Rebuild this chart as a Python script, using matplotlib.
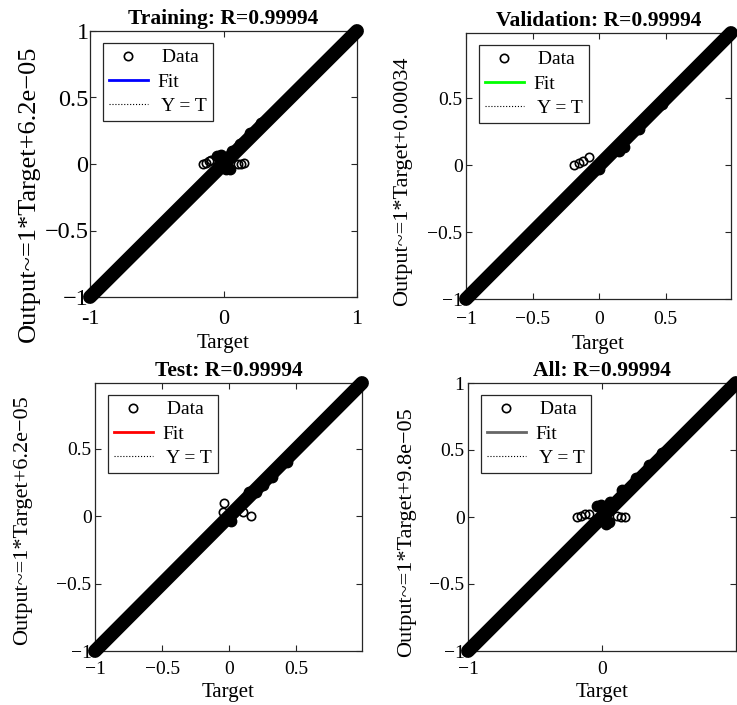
import matplotlib
matplotlib.use("Agg")
import matplotlib.pyplot as plt
from matplotlib.lines import Line2D

plt.rcParams["font.family"] = ["Liberation Serif", "DejaVu Serif"]

TITLES = ["Training: R=0.99994", "Validation: R=0.99994", "Test: R=0.99994", "All: R=0.99994"]
YLABELS = [
    "Output~=1*Target+6.2e\u221205",
    "Output~=1*Target+0.00034",
    "Output~=1*Target+6.2e\u221205",
    "Output~=1*Target+9.8e\u221205",
]
FIT_SLOPE = [1.0, 1.0, 1.0, 1.0]
FIT_INTERCEPT = [6.2e-05, 0.00034, 6.2e-05, 9.8e-05]
FIT_COLORS = ["#0000ff", "#00ff00", "#ff0000", "#666666"]
LIMITS = [(-1.0, 1.0), (-1.0, 0.99), (-1.0, 0.99), (-1.0, 1.0)]

# dense data band (targets / outputs at its ends)
BAND_T = [[-1.0, 1.0], [-1.0, 0.99], [-1.0, 0.99], [-1.0, 1.0]]
BAND_Y = [[-1.0, 1.0], [-1.0, 0.99], [-1.0, 0.99], [-1.0, 1.0]]

# overlapping points just off the band
CLUSTER_T = [
    [-0.05, -0.02, 0.02, 0.05, 0.06, 0.12, 0.2, 0.28],
    [0.0, 0.15, 0.19, 0.3, 0.47],
    [0.01, 0.15, 0.2, 0.25, 0.32, 0.43],
    [-0.04, -0.01, 0.03, 0.05, 0.06, 0.15, 0.25, 0.35, 0.45],
]
CLUSTER_Y = [
    [0.06, 0.07, -0.04, -0.04, 0.1, 0.15, 0.23, 0.31],
    [-0.03, 0.11, 0.14, 0.27, 0.46],
    [-0.035, 0.18, 0.18, 0.23, 0.29, 0.4],
    [0.08, 0.09, -0.05, -0.04, 0.11, 0.2, 0.29, 0.39, 0.48],
]

# isolated points around zero
OUT_T = [
    [-0.15, -0.13, -0.11, -0.09, 0.11, 0.13, 0.15],
    [-0.19, -0.15, -0.12, -0.08],
    [-0.04, -0.045, 0.1, 0.16],
    [-0.19, -0.16, -0.13, -0.1, 0.11, 0.14, 0.17],
]
OUT_Y = [
    [0.0, 0.01, 0.02, 0.03, 0.0, 0.0, 0.01],
    [0.0, 0.02, 0.03, 0.06],
    [0.1, 0.03, 0.03, 0.0],
    [0.0, 0.01, 0.02, 0.02, 0.01, 0.0, 0.0],
]

XTICKS = [[-1, 0, 1], [-1, -0.5, 0, 0.5], [-1, -0.5, 0, 0.5], [-1, 0]]
XTICKLABELS = [
    ["-1", "0", "1"],
    ["\u22121", "\u22120.5", "0", "0.5"],
    ["\u22121", "\u22120.5", "0", "0.5"],
    ["\u22121", "0"],
]
YTICKS = [[-1, -0.5, 0, 0.5, 1], [-1, -0.5, 0, 0.5], [-1, -0.5, 0, 0.5], [-1, -0.5, 0, 0.5, 1]]
YTICKLABELS = [
    ["\u22121", "\u22120.5", "0", "0.5", "1"],
    ["\u22121", "\u22120.5", "0", "0.5"],
    ["\u22121", "\u22120.5", "0", "0.5"],
    ["\u22121", "\u22120.5", "0", "0.5", "1"],
]

# axes boxes in pixels: left, right, top, bottom
BOXES = [(90, 357, 31, 297), (466, 731, 33, 299), (95, 362, 383, 651), (468, 736, 383, 651)]
YLABEL_POS = [(-0.228, 0.387), (-0.238, 0.444), (-0.27, 0.489), (-0.228, 0.444)]
XLABEL_GAP = [46, 46, 41, 41]

W, H = 737, 705
EDGE = "#262626"


def plot_panel(fig, i):
    l, r, t, b = BOXES[i]
    ax = fig.add_axes([l / W, (H - b) / H, (r - l) / W, (b - t) / H])
    lo, hi = LIMITS[i]

    ax.plot([lo, hi], [lo, hi], ":", color="k", lw=0.8, zorder=1)
    ax.plot([lo, hi], [FIT_SLOPE[i] * lo + FIT_INTERCEPT[i], FIT_SLOPE[i] * hi + FIT_INTERCEPT[i]],
            color=FIT_COLORS[i], lw=2, zorder=2)
    ax.plot(BAND_T[i], BAND_Y[i], color="k", lw=10, solid_capstyle="round", zorder=3, clip_on=False)
    ax.plot(CLUSTER_T[i], CLUSTER_Y[i], "o", color="k", ms=7.5, zorder=3, lw=0)
    ax.plot(OUT_T[i], OUT_Y[i], "o", mfc="none", mec="k", ms=6, mew=1.2, zorder=4, lw=0)

    ax.set_xlim(lo, hi)
    ax.set_ylim(lo, hi)
    big = i == 0
    ax.set_xticks(XTICKS[i])
    ax.set_xticklabels(XTICKLABELS[i], fontsize=16 if big else 14)
    ax.set_yticks(YTICKS[i])
    ax.set_yticklabels(YTICKLABELS[i], fontsize=17.5 if big else 14)
    ax.tick_params(direction="in", top=True, right=True, length=4, width=0.8, color=EDGE)
    ax.tick_params(axis="x", pad=9 if i < 2 else 7)
    ax.tick_params(axis="y", pad=1 if big else 2.5)
    for sp in ax.spines.values():
        sp.set_color(EDGE)
        sp.set_linewidth(0.9)

    ax.set_title(TITLES[i], fontsize=15.5, fontweight="bold", pad=5)
    ax.set_xlabel("Target", fontsize=15)
    ax.xaxis.set_label_coords(0.5, -XLABEL_GAP[i] / (b - t))
    ax.xaxis.label.set_va("center")
    ax.set_ylabel(YLABELS[i], fontsize=19 if big else 16)
    ax.yaxis.set_label_coords(*YLABEL_POS[i])
    ax.yaxis.label.set_va("center")

    handles = [
        Line2D([], [], ls="none", marker="o", mfc="none", mec="k", ms=6, mew=1.2),
        Line2D([], [], color=FIT_COLORS[i], lw=2),
        Line2D([], [], color="k", ls=":", lw=0.8),
    ]
    leg = ax.legend(handles, [" Data", "Fit", " Y = T"], loc="upper left",
                    bbox_to_anchor=(13 / (r - l), 1 - 12 / (b - t)), borderaxespad=0,
                    fontsize=14, frameon=True, fancybox=False, framealpha=1,
                    edgecolor=EDGE, borderpad=0.3, labelspacing=0.35,
                    handlelength=2.0, handletextpad=0.5)
    leg.get_frame().set_linewidth(0.9)
    leg.set_zorder(10)
    return ax


fig = plt.figure(figsize=(W / 100, H / 100), dpi=100)
for k in range(4):
    plot_panel(fig, k)
fig.savefig("out.png", dpi=100)
